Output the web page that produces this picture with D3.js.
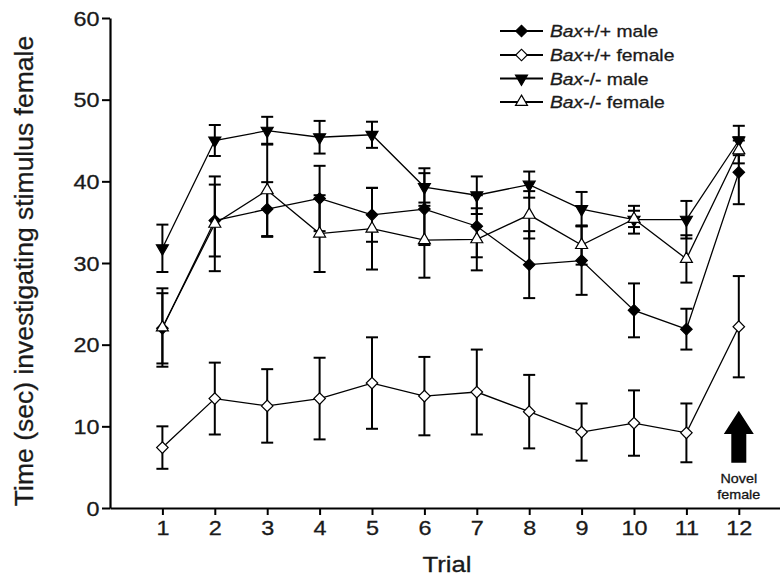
<!DOCTYPE html>
<html>
<head>
<meta charset="utf-8">
<script src="https://cdn.jsdelivr.net/npm/d3@7"></script>
<style>
  body { margin: 0; background: #fff; }
  svg { display: block; font-family: "Liberation Sans", Arial, sans-serif; }
  svg text { stroke: #1a1a1a; stroke-width: 0.3px; }
</style>
</head>
<body>
<svg id="chart" width="780" height="581"></svg>
<script>
// trials and tick labels
const trials = [1, 2, 3, 4, 5, 6, 7, 8, 9, 10, 11, 12];
const yTicks = [0, 10, 20, 30, 40, 50, 60];

// series means and SEM
const wtMale = [22.0, 35.2, 36.6, 37.9, 35.9, 36.6, 34.5, 29.8, 30.3, 24.2, 21.9, 41.1];
const wtMaleErr = [4.3, 4.4, 3.3, 4.0, 3.3, 4.4, 3.8, 4.1, 4.2, 3.3, 2.5, 3.9];

const wtFemale = [7.4, 13.4, 12.5, 13.4, 15.3, 13.7, 14.2, 11.8, 9.3, 10.4, 9.2, 22.2];
const wtFemaleErr = [2.6, 4.4, 4.5, 5.0, 5.6, 4.8, 5.2, 4.5, 3.5, 4.0, 3.6, 6.2];

const koMale = [31.8, 45.0, 46.2, 45.4, 45.7, 39.3, 38.3, 39.6, 36.6, 35.3, 35.3, 45.0];
const koMaleErr = [2.9, 1.9, 1.7, 2.0, 1.6, 2.3, 2.3, 1.6, 2.1, 1.7, 2.3, 1.8];

const koFemale = [22.1, 34.8, 38.9, 33.6, 34.2, 32.8, 32.9, 35.9, 32.2, 35.4, 30.5, 43.8];
const koFemaleErr = [4.8, 5.8, 5.7, 4.7, 5.0, 4.6, 3.8, 2.9, 2.4, 1.0, 2.9, 1.6];

const seriesNames = ["+/+ male", "+/+ female", "-/- male", "-/- female"];

function createLineChart() {
  const svg = d3.select("#chart");
  const sx = 1.17; // the figure is a bit wide, stretch the text to match

  const x = d3.scaleLinear().domain([0, 13]).range([110, 791.2]);
  const y = d3.scaleLinear().domain([0, 60]).range([508, 18]);

  const series = [
    { name: seriesNames[0], vals: wtMale, err: wtMaleErr, shape: "diamond", fill: "#000" },
    { name: seriesNames[1], vals: wtFemale, err: wtFemaleErr, shape: "diamond", fill: "#fff" },
    { name: seriesNames[2], vals: koMale, err: koMaleErr, shape: "down", fill: "#000" },
    { name: seriesNames[3], vals: koFemale, err: koFemaleErr, shape: "up", fill: "#fff" },
  ];

  const symbolFor = (shape) => {
    if (shape === "diamond") return d3.symbol().type(d3.symbolSquare).size(66)();
    return d3.symbol().type(d3.symbolTriangle).size(62)();
  };
  const rotFor = (shape) => (shape === "diamond" ? 45 : shape === "down" ? 180 : 0);

  // axes
  const xAxis = svg.append("g")
    .attr("transform", `translate(0,${y(0)})`)
    .call(d3.axisBottom(x).tickValues(trials).tickSize(7).tickSizeOuter(0));
  xAxis.select(".domain").attr("stroke-width", 2.2);
  xAxis.selectAll(".tick line").attr("stroke-width", 2);
  xAxis.selectAll(".tick text")
    .attr("y", 27).attr("dy", 0)
    .attr("font-size", 20).attr("fill", "#1a1a1a")
    .attr("transform", `scale(${sx},1)`);

  const yAxis = svg.append("g")
    .attr("transform", `translate(${x(0)},0)`)
    .call(d3.axisLeft(y).tickValues(yTicks).tickSize(8).tickSizeOuter(0));
  yAxis.select(".domain").attr("stroke-width", 2.2);
  yAxis.selectAll(".tick line").attr("stroke-width", 2);
  yAxis.selectAll(".tick text")
    .attr("x", -9).attr("dy", "0.36em")
    .attr("font-size", 20).attr("fill", "#1a1a1a")
    .attr("transform", `scale(${sx},1)`);

  // axis titles
  svg.append("text")
    .attr("transform", `translate(447,572) scale(${sx},1)`)
    .attr("text-anchor", "middle")
    .attr("font-size", 22).attr("fill", "#1a1a1a")
    .text("Trial");

  svg.append("text")
    .attr("transform", "translate(33,271) rotate(-90)")
    .attr("text-anchor", "middle")
    .attr("font-size", 26.5).attr("fill", "#1a1a1a")
    .text("Time (sec) investigating stimulus female");

  const line = d3.line().x((d, i) => x(trials[i])).y((d) => y(d));

  series.forEach((s) => {
    const g = svg.append("g");

    g.append("path")
      .attr("d", line(s.vals))
      .attr("fill", "none")
      .attr("stroke", "#000")
      .attr("stroke-width", 1.3);

    // error bars
    const eb = g.selectAll(".eb").data(s.vals).enter().append("g");
    eb.append("line")
      .attr("x1", (d, i) => x(trials[i])).attr("x2", (d, i) => x(trials[i]))
      .attr("y1", (d, i) => y(d + s.err[i])).attr("y2", (d, i) => y(d - s.err[i]))
      .attr("stroke", "#000").attr("stroke-width", 2);
    [1, -1].forEach((sign) => {
      eb.append("line")
        .attr("x1", (d, i) => x(trials[i]) - 6).attr("x2", (d, i) => x(trials[i]) + 6)
        .attr("y1", (d, i) => y(d + sign * s.err[i])).attr("y2", (d, i) => y(d + sign * s.err[i]))
        .attr("stroke", "#000").attr("stroke-width", 2);
    });
  });

  // markers on top
  series.forEach((s) => {
    svg.append("g").selectAll("path")
      .data(s.vals).enter().append("path")
      .attr("d", symbolFor(s.shape))
      .attr("transform", (d, i) => `translate(${x(trials[i])},${y(d)}) rotate(${rotFor(s.shape)})`)
      .attr("fill", s.fill)
      .attr("stroke", "#000")
      .attr("stroke-width", 1.2);
  });

  // legend
  const legend = svg.append("g");
  const rowY = [31, 55, 78.5, 102];
  series.forEach((s, i) => {
    const r = legend.append("g").attr("transform", `translate(0,${rowY[i]})`);
    r.append("line").attr("x1", 500).attr("x2", 543)
      .attr("stroke", "#000").attr("stroke-width", 2);
    r.append("path")
      .attr("d", symbolFor(s.shape))
      .attr("transform", `translate(521.5,0) rotate(${rotFor(s.shape)})`)
      .attr("fill", s.fill).attr("stroke", "#000").attr("stroke-width", 1.2);
    const t = r.append("text")
      .attr("transform", `translate(550,6) scale(${sx},1)`)
      .attr("font-size", 16.5).attr("fill", "#1a1a1a");
    t.append("tspan").attr("font-style", "italic").text("Bax");
    t.append("tspan").text(s.name);
  });

  // novel female arrow at trial 12
  const ax = x(12);
  const arrow = d3.path();
  arrow.moveTo(ax, y(11.9));
  arrow.lineTo(ax + 15, y(9.05));
  arrow.lineTo(ax + 7.5, y(9.05));
  arrow.lineTo(ax + 7.5, y(5.55));
  arrow.lineTo(ax - 7.5, y(5.55));
  arrow.lineTo(ax - 7.5, y(9.05));
  arrow.lineTo(ax - 15, y(9.05));
  arrow.closePath();
  svg.append("path").attr("d", arrow.toString()).attr("fill", "#000");

  svg.append("text")
    .attr("transform", `translate(${ax},482.5) scale(1.1,1)`)
    .attr("text-anchor", "middle").attr("font-size", 13).attr("fill", "#111")
    .text("Novel");
  svg.append("text")
    .attr("transform", `translate(${ax},499) scale(1.1,1)`)
    .attr("text-anchor", "middle").attr("font-size", 13).attr("fill", "#111")
    .text("female");
}

createLineChart();
</script>
</body>
</html>
